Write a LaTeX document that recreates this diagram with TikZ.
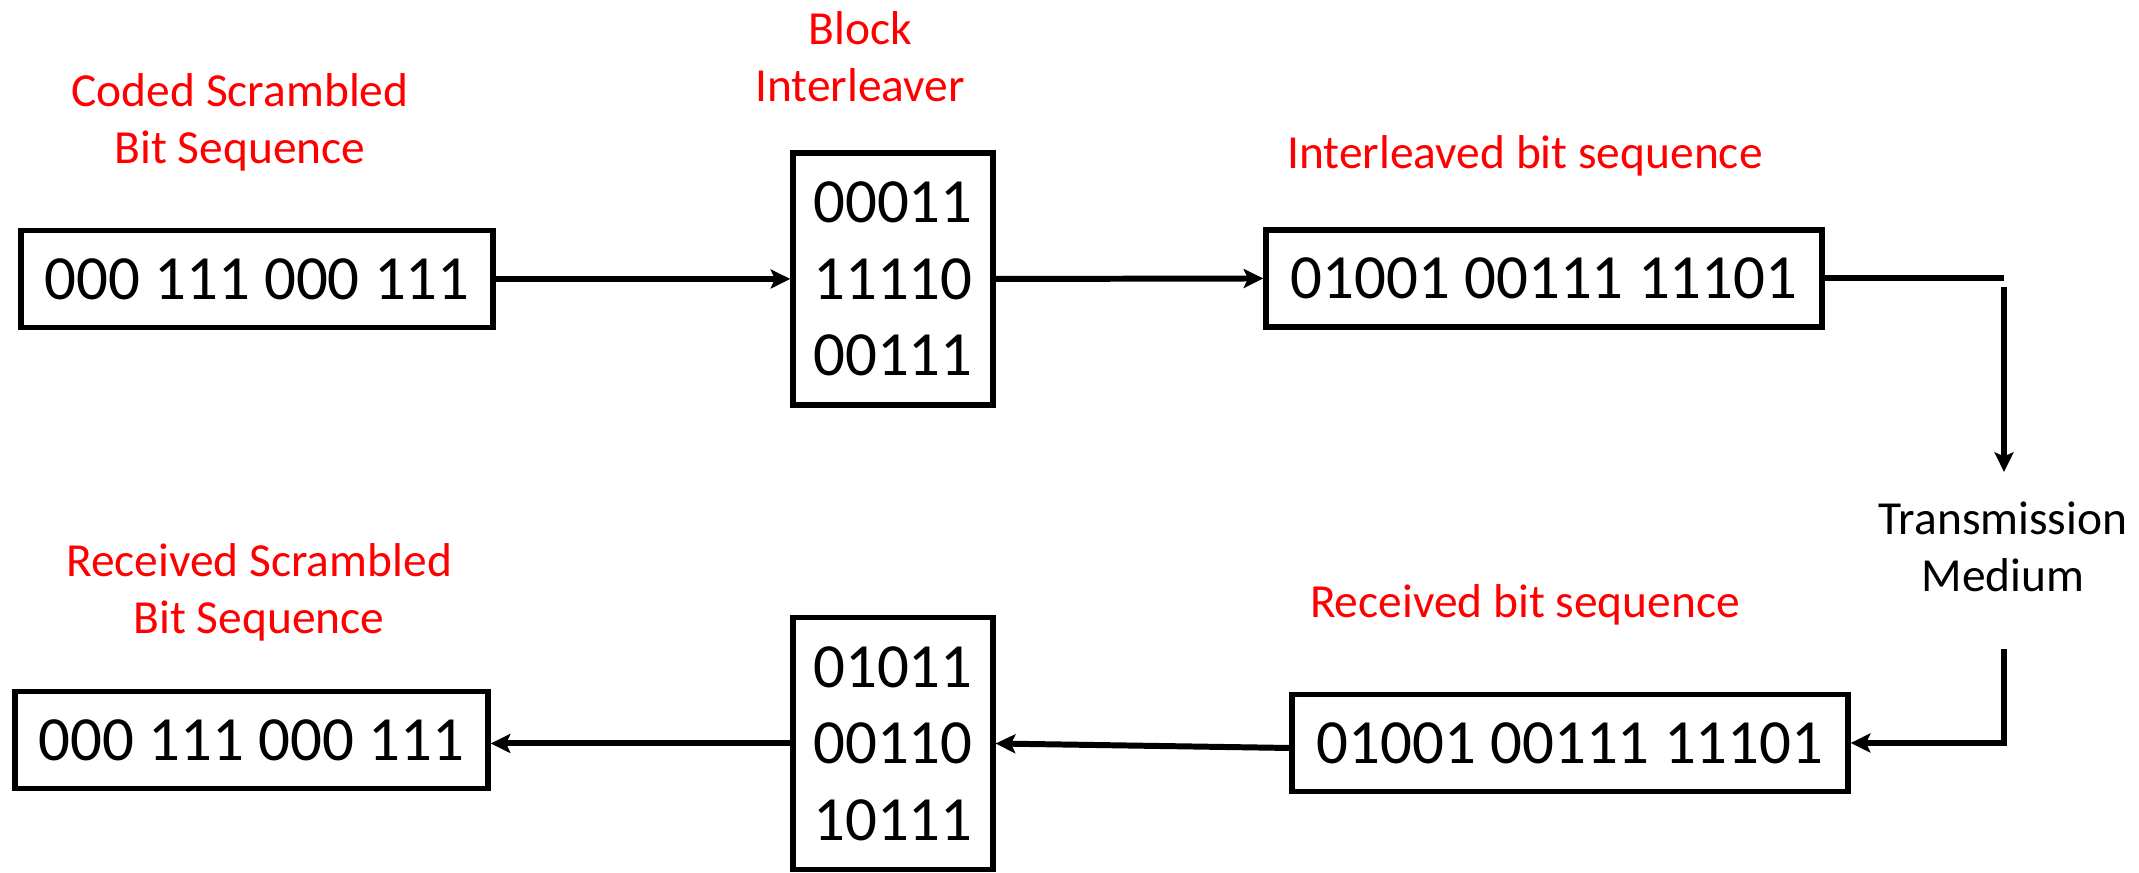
\documentclass[tikz,border=0pt]{standalone}
\usepackage{fontspec}
\setmainfont{Carlito}
\usetikzlibrary{arrows.meta}

\begin{document}
	\begin{tikzpicture}[
		bits/.style={draw, line width=1.5pt, inner sep=0pt, align=center,
			font=\fontsize{17.9}{21.8}\selectfont},
		seqbox/.style={bits, minimum width=#1, minimum height=0.97cm},
		matbox/.style={bits, minimum width=2cm, minimum height=2.52cm},
		caption/.style={text=red, align=center, inner sep=0pt,
			font=\fontsize{13.5}{16.2}\selectfont},
		wire/.style={line width=1.7pt},
		tip/.style={-{Stealth[length=5.6pt,width=5.4pt,inset=1.2pt]}}
		]
		\useasboundingbox (0,0) rectangle (21.39,8.73);

		\node [seqbox=4.72cm] (cs)  at ( 2.57 , 5.94 ) {000 111 000 111};
		\node [matbox]        (ilv) at ( 8.93 , 5.94 ) {00011\\11110\\00111};
		\node [seqbox=5.56cm] (itx) at (15.44 , 5.945) {01001 00111 11101};
		\node [seqbox=5.56cm] (rx)  at (15.70 , 1.30 ) {01001 00111 11101};
		\node [matbox]        (dil) at ( 8.93 , 1.295) {01011\\00110\\10111};
		\node [seqbox=4.73cm] (rs)  at ( 2.515, 1.33 ) {000 111 000 111};

		\node [caption]             (lcs)  at ( 2.40, 7.505) {Coded Scrambled\\Bit Sequence};
		\node [caption]             (lblk) at ( 8.60, 8.16 ) {Block\\Interleaver};
		\node [caption, anchor=base] (litx) at (15.25, 7.04 ) {Interleaved bit sequence};
		\node [caption, text=black] (ltm)  at (20.03, 3.26 ) {Transmission\\Medium};
		\node [caption, anchor=base] (lrx)  at (15.25, 2.55 ) {Received bit sequence};
		\node [caption]             (lrs)  at ( 2.59, 2.805) {Received Scrambled\\Bit Sequence};

		\coordinate (bend) at (20.04, 5.945);
		\coordinate (down) at (20.04, 5.86 );
		\coordinate (tmin) at (20.04, 4.01 );
		\coordinate (tmout) at (20.04, 2.24 );

		\draw[wire, tip] (cs.east)  -- (ilv.west);
		\draw[wire, tip] (ilv.east) -- (itx.west);
		\draw[wire]      (itx.east) -- (bend);
		\draw[wire, tip] (down)     -- (tmin);
		\draw[wire, tip] (tmout)    |- (rx.east);
		\draw[wire, tip] ([yshift=-0.05cm]rx.west) -- (dil.east);
		\draw[wire, tip] (dil.west) -- (dil.west -| rs.east);
	\end{tikzpicture}
\end{document}
